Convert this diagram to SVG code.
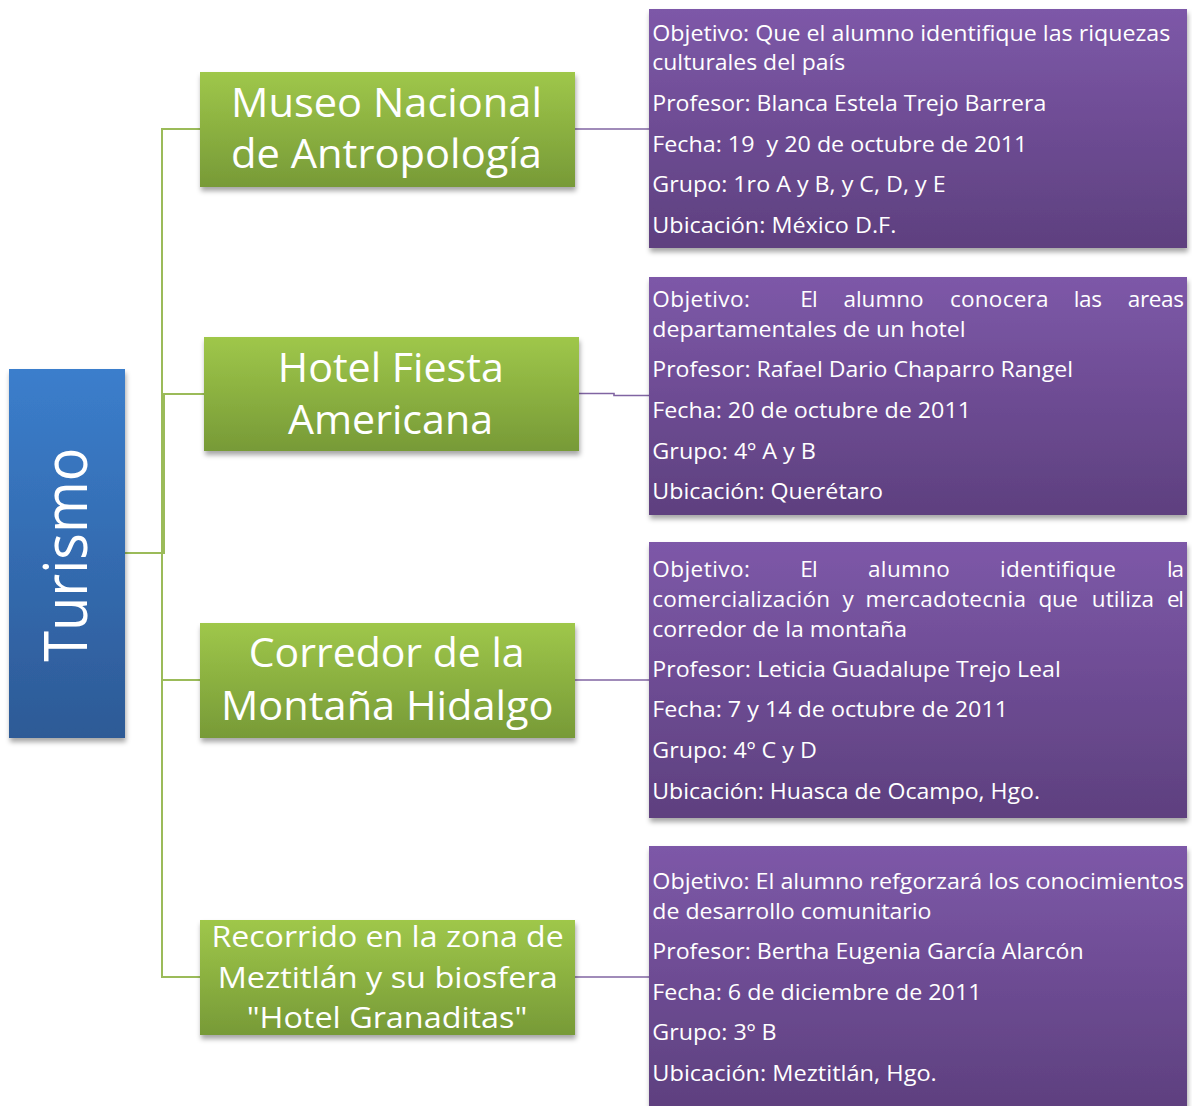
<svg xmlns="http://www.w3.org/2000/svg" width="1192" height="1106" viewBox="0 0 1192 1106">
<defs>
<linearGradient id="gBlue" x1="0" y1="0" x2="0" y2="1"><stop offset="0" stop-color="#3b7ecc"/><stop offset="1" stop-color="#2d5a96"/></linearGradient>
<linearGradient id="gGreen" x1="0" y1="0" x2="0" y2="1"><stop offset="0" stop-color="#9fc74a"/><stop offset="1" stop-color="#779a37"/></linearGradient>
<linearGradient id="gPurple" x1="0" y1="0" x2="0" y2="1"><stop offset="0" stop-color="#7d58a8"/><stop offset="1" stop-color="#5e407f"/></linearGradient>
<filter id="sh" x="-10%" y="-10%" width="120%" height="125%"><feDropShadow dx="1" dy="4" stdDeviation="2.5" flood-color="#000" flood-opacity="0.35"/></filter>
</defs>
<style>
.t{font-family:"Open Sans","Liberation Sans",sans-serif;fill:#ffffff;}
.big{font-size:41px;}
.mid{font-size:29px;}
.sm{font-size:22.5px;}
.gl{fill:none;stroke:#9bbb59;stroke-width:2;}
.pl{fill:none;stroke:#8064a2;stroke-width:1.6;}
</style>
<rect width="1192" height="1106" fill="#ffffff"/>
<g id="connectors">
<path class="gl" d="M125,553 H162 V129 H200"/>
<path class="gl" d="M125,553 H164 V394 H204"/>
<path class="gl" d="M125,553 H162 V680 H200"/>
<path class="gl" d="M125,553 H162 V977 H200"/>
<path class="pl" d="M575,129 H649"/>
<path class="pl" d="M579,393.5 H614 V395.5 H649"/>
<path class="pl" d="M575,680 H649"/>
<path class="pl" d="M575,977 H649"/>
</g>
<g id="turismo">
<rect x="9" y="369" width="116" height="369" fill="url(#gBlue)" filter="url(#sh)"/>
<text class="t" font-size="61" transform="translate(86.5,661.7) rotate(-90)" textLength="214" lengthAdjust="spacingAndGlyphs">Turismo</text>
</g>
<g id="museo">
<rect x="200" y="72" width="375" height="115" fill="url(#gGreen)" filter="url(#sh)"/>
<text class="t big" x="231" y="117" textLength="311" lengthAdjust="spacingAndGlyphs">Museo Nacional</text>
<text class="t big" x="231" y="168" textLength="311" lengthAdjust="spacingAndGlyphs">de Antropología</text>
</g>
<g id="hotel">
<rect x="204" y="337" width="375" height="114" fill="url(#gGreen)" filter="url(#sh)"/>
<text class="t big" x="277.8" y="381.5" textLength="226" lengthAdjust="spacingAndGlyphs">Hotel Fiesta</text>
<text class="t big" x="288" y="434" textLength="205" lengthAdjust="spacingAndGlyphs">Americana</text>
</g>
<g id="corredor">
<rect x="200" y="623" width="375" height="115" fill="url(#gGreen)" filter="url(#sh)"/>
<text class="t big" x="248.8" y="667" textLength="275.7" lengthAdjust="spacingAndGlyphs">Corredor de la</text>
<text class="t big" x="221" y="719.5" textLength="332.5" lengthAdjust="spacingAndGlyphs">Montaña Hidalgo</text>
</g>
<g id="recorrido">
<rect x="200" y="920" width="375" height="115" fill="url(#gGreen)" filter="url(#sh)"/>
<text class="t mid" x="211.4" y="947" textLength="352.4" lengthAdjust="spacingAndGlyphs">Recorrido en la zona de</text>
<text class="t mid" x="217.7" y="988" textLength="340" lengthAdjust="spacingAndGlyphs">Meztitlán y su biosfera</text>
<text class="t mid" x="246.7" y="1028" textLength="280.7" lengthAdjust="spacingAndGlyphs">"Hotel Granaditas"</text>
</g>
<g id="info1">
<rect x="649" y="9" width="538" height="239" fill="url(#gPurple)" filter="url(#sh)"/>
<text class="t sm" x="652.3" y="41" textLength="518" lengthAdjust="spacingAndGlyphs">Objetivo: Que el alumno identifique las riquezas</text>
<text class="t sm" x="652.3" y="70" textLength="193" lengthAdjust="spacingAndGlyphs">culturales del país</text>
<text class="t sm" x="652.3" y="110.5" textLength="394" lengthAdjust="spacingAndGlyphs">Profesor: Blanca Estela Trejo Barrera</text>
<text class="t sm" x="652.3" y="151.5" textLength="375" lengthAdjust="spacingAndGlyphs" xml:space="preserve">Fecha: 19  y 20 de octubre de 2011</text>
<text class="t sm" x="652.3" y="192" textLength="293.3" lengthAdjust="spacingAndGlyphs">Grupo: 1ro A y B, y C, D, y E</text>
<text class="t sm" x="652.3" y="232.5" textLength="244" lengthAdjust="spacingAndGlyphs">Ubicación: México D.F.</text>
</g>
<g id="info2">
<rect x="649" y="277" width="538" height="238" fill="url(#gPurple)" filter="url(#sh)"/>
<text class="t sm" y="307" lengthAdjust="spacingAndGlyphs"><tspan x="652.3" textLength="97.6">Objetivo:</tspan><tspan x="800.2" textLength="17.6">El</tspan><tspan x="843.5" textLength="80">alumno</tspan><tspan x="950" textLength="98.5">conocera</tspan><tspan x="1073.8" textLength="28.2">las</tspan><tspan x="1127.7" textLength="56.3">areas</tspan></text>
<text class="t sm" x="652.3" y="336.5" textLength="313.4" lengthAdjust="spacingAndGlyphs">departamentales de un hotel</text>
<text class="t sm" x="652.3" y="377" textLength="420.7" lengthAdjust="spacingAndGlyphs">Profesor: Rafael Dario Chaparro Rangel</text>
<text class="t sm" x="652.3" y="417.5" textLength="318.7" lengthAdjust="spacingAndGlyphs">Fecha: 20 de octubre de 2011</text>
<text class="t sm" x="652.3" y="458.5" textLength="163.7" lengthAdjust="spacingAndGlyphs">Grupo: 4º A y B</text>
<text class="t sm" x="652.3" y="498.5" textLength="230.7" lengthAdjust="spacingAndGlyphs">Ubicación: Querétaro</text>
</g>
<g id="info3">
<rect x="649" y="542" width="538" height="276" fill="url(#gPurple)" filter="url(#sh)"/>
<text class="t sm" y="577" lengthAdjust="spacingAndGlyphs"><tspan x="652.3" textLength="97.6">Objetivo:</tspan><tspan x="800.2" textLength="17.6">El</tspan><tspan x="868" textLength="81.9">alumno</tspan><tspan x="1000" textLength="116">identifique</tspan><tspan x="1167" textLength="17">la</tspan></text>
<text class="t sm" y="607" lengthAdjust="spacingAndGlyphs"><tspan x="652.3" textLength="177.8">comercialización</tspan><tspan x="842.5" textLength="11.6">y</tspan><tspan x="865.4" textLength="160.6">mercadotecnia</tspan><tspan x="1038.6" textLength="39.4">que</tspan><tspan x="1091.8" textLength="62.2">utiliza</tspan><tspan x="1167" textLength="17">el</tspan></text>
<text class="t sm" x="652.3" y="636.5" textLength="254.7" lengthAdjust="spacingAndGlyphs">corredor de la montaña</text>
<text class="t sm" x="652.3" y="677" textLength="408.5" lengthAdjust="spacingAndGlyphs">Profesor: Leticia Guadalupe Trejo Leal</text>
<text class="t sm" x="652.3" y="717" textLength="355.7" lengthAdjust="spacingAndGlyphs">Fecha: 7 y 14 de octubre de 2011</text>
<text class="t sm" x="652.3" y="758" textLength="164.5" lengthAdjust="spacingAndGlyphs">Grupo: 4º C y D</text>
<text class="t sm" x="652.3" y="798.5" textLength="387.7" lengthAdjust="spacingAndGlyphs">Ubicación: Huasca de Ocampo, Hgo.</text>
</g>
<g id="info4">
<rect x="649" y="846" width="538" height="262" fill="url(#gPurple)" filter="url(#sh)"/>
<text class="t sm" x="652.3" y="889" textLength="531.7" lengthAdjust="spacingAndGlyphs">Objetivo: El alumno refgorzará los conocimientos</text>
<text class="t sm" x="652.3" y="918.5" textLength="279.2" lengthAdjust="spacingAndGlyphs">de desarrollo comunitario</text>
<text class="t sm" x="652.3" y="959" textLength="431.4" lengthAdjust="spacingAndGlyphs">Profesor: Bertha Eugenia García Alarcón</text>
<text class="t sm" x="652.3" y="1000" textLength="329.2" lengthAdjust="spacingAndGlyphs">Fecha: 6 de diciembre de 2011</text>
<text class="t sm" x="652.3" y="1040" textLength="124.3" lengthAdjust="spacingAndGlyphs">Grupo: 3º B</text>
<text class="t sm" x="652.3" y="1081" textLength="284.5" lengthAdjust="spacingAndGlyphs">Ubicación: Meztitlán, Hgo.</text>
</g>
</svg>
